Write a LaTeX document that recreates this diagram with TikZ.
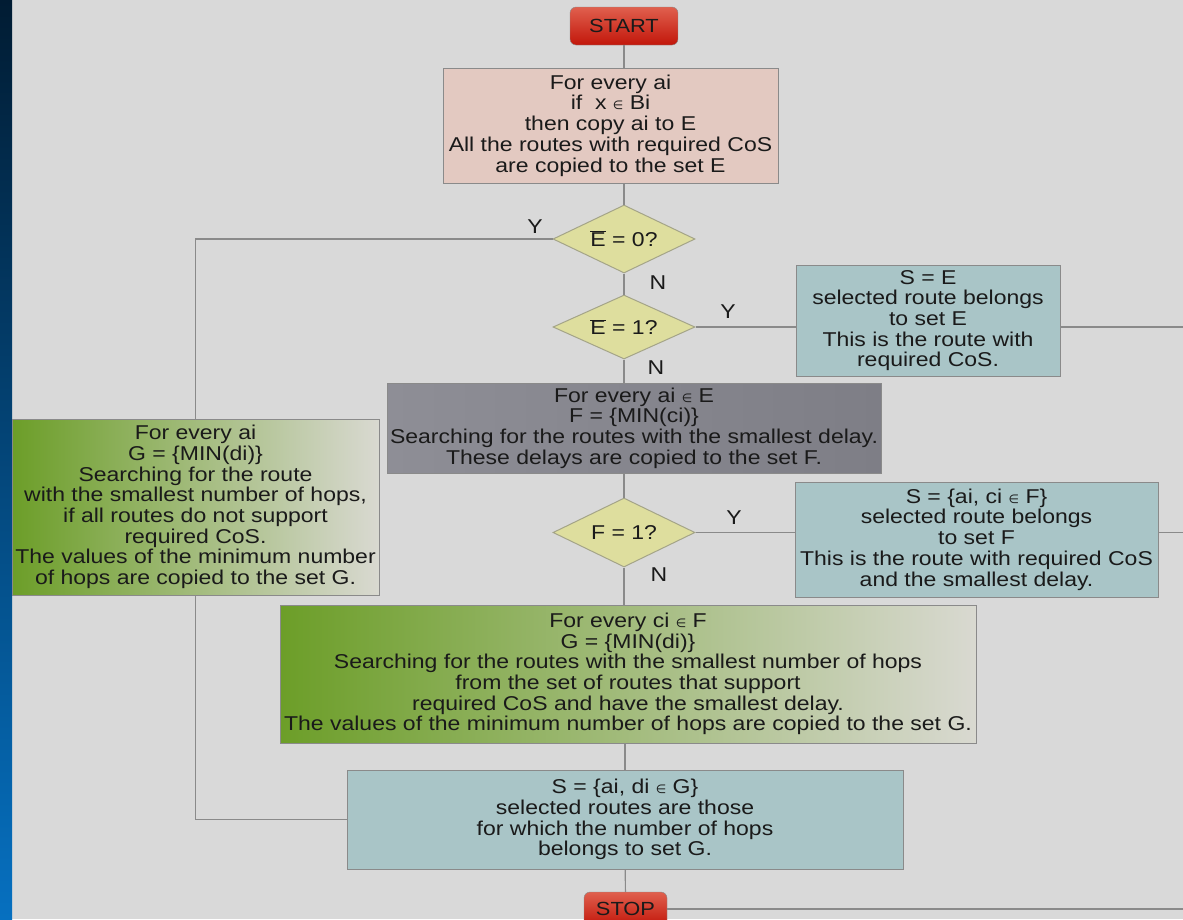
\documentclass[tikz,border=0pt]{standalone}
\usepackage{fontspec}
\setmainfont[FakeStretch=1.15]{Liberation Sans}
\newfontfamily\symfont{DejaVu Sans}
\usepackage{tikz}
\usetikzlibrary{shapes.geometric}
\definecolor{bggray}{HTML}{D9D9D9}
\definecolor{linegray}{HTML}{8A8A8A}
\definecolor{txt}{HTML}{1A1A1A}
\definecolor{pinkside}{HTML}{E3C9C1}
\definecolor{pinkmid}{HTML}{EDDDD7}
\definecolor{tealside}{HTML}{A9C5C7}
\definecolor{tealmid}{HTML}{C8D8D8}
\definecolor{grayleft}{HTML}{8E8E96}
\definecolor{graymid}{HTML}{ACACB0}
\definecolor{grayright}{HTML}{7E7E86}
\definecolor{greenleft}{HTML}{6C9E28}
\definecolor{greenmid}{HTML}{9EBC5C}
\definecolor{greenright}{HTML}{D9D9D1}
\definecolor{khaki}{HTML}{DEDE9E}
\definecolor{olivegray}{HTML}{A4A488}
\definecolor{redtop}{HTML}{E0604E}
\definecolor{redbot}{HTML}{C2160A}
\definecolor{navytop}{HTML}{011C33}
\definecolor{navymid}{HTML}{003158}
\definecolor{navybot}{HTML}{0670C0}
\newcommand{\elemof}{{\symfont\fontsize{12}{12}\selectfont ∈}}
\newcommand{\barE}{$\overline{\hbox{E}}$}

\begin{document}
\begin{tikzpicture}[x=1pt,y=1pt,yscale=-1,
  box/.style={draw=linegray,line width=1pt,inner sep=0pt,align=center,font=\fontsize{20}{20.7}\selectfont,text=txt},
  pinkbox/.style={box,left color=pinkside,middle color=pinkmid,right color=pinkside},
  tealbox/.style={box,left color=tealside,middle color=tealmid,right color=tealside},
  graybox/.style={box,left color=grayleft,middle color=graymid,right color=grayright},
  greenbox/.style={box,left color=greenleft,middle color=greenmid,right color=greenright},
  test/.style={diamond,aspect=2.2,draw=olivegray,line width=1pt,fill=khaki,inner sep=0pt,font=\fontsize{20}{20.7}\selectfont,text=txt},
  term/.style={draw=linegray,rounded corners=6pt,top color=redtop,bottom color=redbot,inner sep=0pt,font=\fontsize{19}{19}\selectfont,text=txt},
  link/.style={draw=linegray,line width=1.2pt},
  yn/.style={font=\fontsize{20}{20}\selectfont,text=txt}]
\useasboundingbox (0,0) rectangle (1183,919);
\clip (0,0) rectangle (1183,919);
%Background
\fill[bggray] (0,0) rectangle (1183,919);
\fill[top color=navytop,middle color=navymid,bottom color=navybot] (0,0) rectangle (12,919);
\coordinate (rim) at (1183,0);
%Start
\node[term,minimum width=108pt,minimum height=38pt] (start) at (624,26) {START};
\node[pinkbox,minimum width=335pt,minimum height=115pt] (copyE) at (610.5,125.5) {For every ai\\if\ \ x \elemof\ Bi\\then copy ai to E\\All the routes with required CoS\\are copied to the set E};
%Tests on E
\node[test,minimum width=142pt,minimum height=68pt] (isE0) at (624,239) {\barE\ = 0?};
\node[test,minimum width=142pt,minimum height=64pt] (isE1) at (624,327) {\barE\ = 1?};
\node[tealbox,minimum width=264pt,minimum height=111pt] (selE) at (928,320.5) {S = E\\selected route belongs\\to set E\\This is the route with\\required CoS.};
%Delay
\node[graybox,minimum width=494pt,minimum height=90pt] (minC) at (634,428) {For every ai \elemof\ E\\F = \{MIN(ci)\}\\Searching for the routes with the smallest delay.\\These delays are copied to the set F.};
\node[test,minimum width=142pt,minimum height=69pt] (isF1) at (624,532.5) {F = 1?};
\node[tealbox,minimum width=363pt,minimum height=115pt] (selF) at (976.5,539.5) {S = \{ai, ci \elemof\ F\}\\selected route belongs\\to set F\\This is the route with required CoS\\and the smallest delay.};
%Hops
\node[greenbox,minimum width=367pt,minimum height=176pt] (minDall) at (195.5,507) {For every ai\\G = \{MIN(di)\}\\Searching for the route\\with the smallest number of hops,\\if all routes do not support\\required CoS.\\The values of the minimum number\\of hops are copied to the set G.};
\node[greenbox,minimum width=696pt,minimum height=138pt] (minD) at (628,674) {For every ci \elemof\ F\\G = \{MIN(di)\}\\Searching for the routes with the smallest number of hops\\from the set of routes that support\\required CoS and have the smallest delay.\\The values of the minimum number of hops are copied to the set G.};
\node[tealbox,minimum width=556pt,minimum height=99pt] (selG) at (625,819.5) {S = \{ai, di \elemof\ G\}\\selected routes are those\\for which the number of hops\\belongs to set G.};
\node[term,minimum width=83pt,minimum height=34pt] (stop) at (625.5,909) {STOP};
%Lines
\draw[link] (start) -- (copyE.north -| start);
\draw[link] (copyE.south -| isE0) -- (isE0);
\draw[link] (isE0) -- (isE1);
\draw[link] (isE0.west) -| (minDall);
\draw[link] (isE1) -- (isE1 -| selE.west);
\draw[link] (selE.east |- isE1) -- (isE1 -| rim);
\draw[link] (isE1) -- (minC.north -| isE1);
\draw[link] (minC.south -| isF1) -- (isF1);
\draw[link] (isF1) -- (isF1 -| selF.west);
\draw[link] (selF.east |- isF1) -- (isF1 -| rim);
\draw[link] (isF1) -- (minD.north -| isF1);
\draw[link] (minD.south -| selG) -- (selG);
\draw[link] (minDall) |- (selG.west);
\draw[link] (selG) -- (stop);
\draw[link] (stop) -- (stop -| rim);
%Text
\node[yn] (yE0) at (535,227) {Y};
\node[yn] (nE0) at (658,283) {N};
\node[yn] (yE1) at (728,312) {Y};
\node[yn] (nE1) at (656,368) {N};
\node[yn] (yF1) at (734,518) {Y};
\node[yn] (nF1) at (659,575) {N};
\end{tikzpicture}
\end{document}
